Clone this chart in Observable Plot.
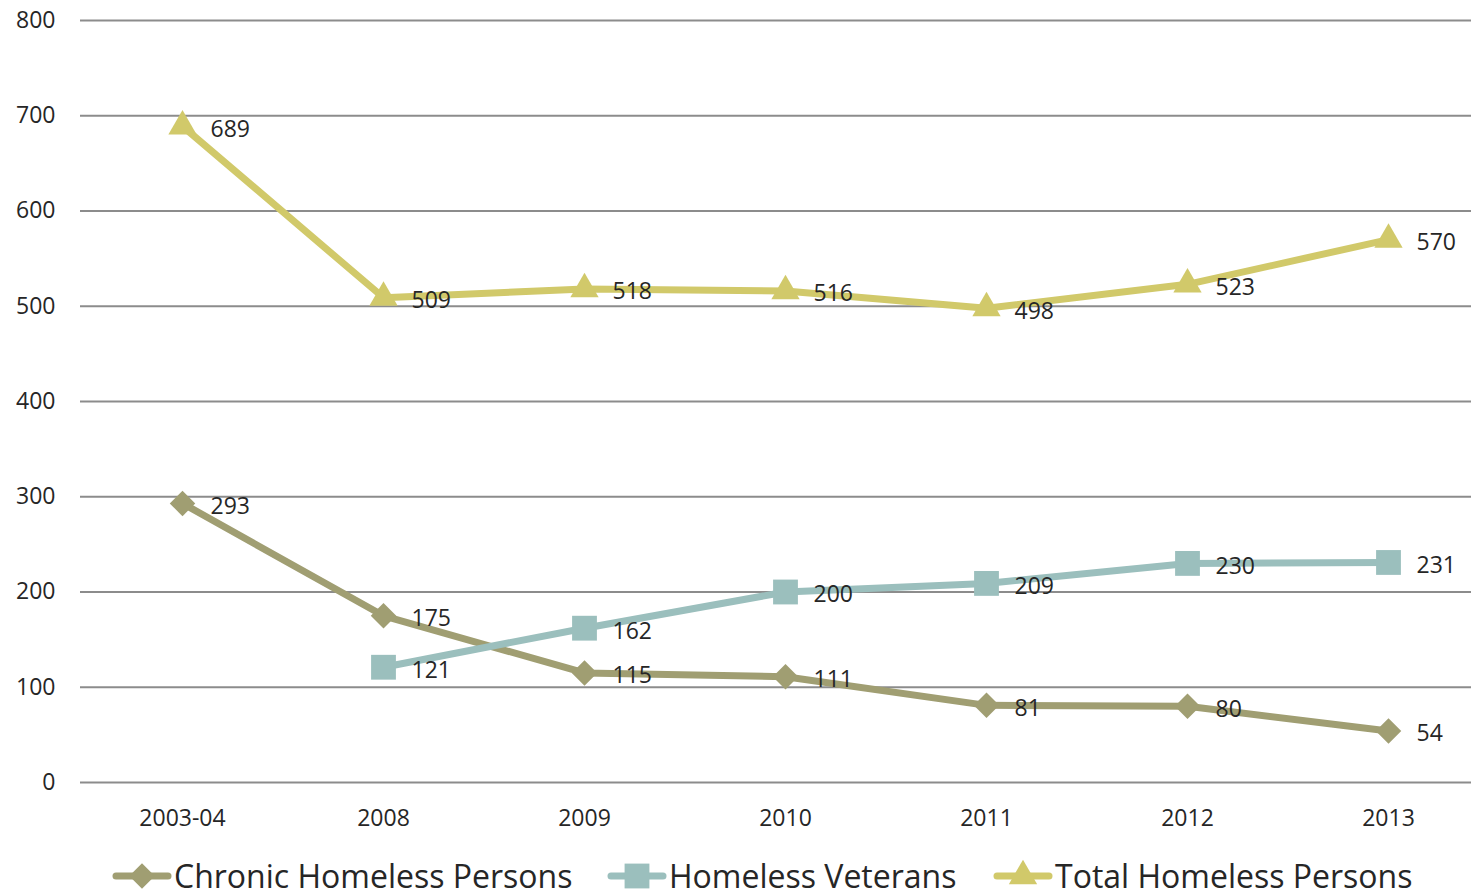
<!DOCTYPE html>
<html>
<head>
<meta charset="utf-8">
<script src="https://cdn.jsdelivr.net/npm/d3@7"></script>
<script src="https://cdn.jsdelivr.net/npm/@observablehq/plot@0.6"></script>
<style>
  html, body { margin: 0; padding: 0; background: #fff; overflow: hidden; }
  #chart svg { display: block; }
  #legend { position: relative; width: 1471px; height: 50px; font-family: "Open Sans", sans-serif; color: #262626; }
  .item { position: absolute; top: 11px; display: flex; align-items: center; font-size: 32px; line-height: 40px; white-space: nowrap; }
  .item svg { display: block; margin-right: 2px; }
</style>
</head>
<body>
<div id="chart"></div>
<div id="legend"></div>
<script>
const categories = ["2003-04", "2008", "2009", "2010", "2011", "2012", "2013"];
const chronic = [293, 175, 115, 111, 81, 80, 54];
const veterans = [null, 121, 162, 200, 209, 230, 231];
const total = [689, 509, 518, 516, 498, 523, 570];
const yTicks = [0, 100, 200, 300, 400, 500, 600, 700, 800];
const seriesNames = ["Chronic Homeless Persons", "Homeless Veterans", "Total Homeless Persons"];
const seriesColors = ["#a09e72", "#9bbfbd", "#d1c96a"];
const seriesSymbols = ["diamond2", "square", "triangle"];
const seriesR = [11.5, 14, 10.5];

const seriesValues = [chronic, veterans, total];
const rows = [];
seriesValues.forEach((vals, si) => {
  vals.forEach((v, i) => {
    if (v != null) rows.push({series: seriesNames[si], year: categories[i], value: v, si});
  });
});

const lineMarks = [];
const dotMarks = [];
seriesNames.forEach((name, si) => {
  const data = rows.filter(d => d.si === si);
  lineMarks.push(Plot.line(data, {x: "year", y: "value", stroke: seriesColors[si], strokeWidth: 7}));
  dotMarks.push(Plot.dot(data, {x: "year", y: "value", fill: seriesColors[si], stroke: "none", symbol: seriesSymbols[si], r: seriesR[si]}));
});

const chart = Plot.plot({
  width: 1471,
  height: 845,
  marginTop: 20,
  marginBottom: 63,
  marginLeft: 80,
  marginRight: 0,
  style: {fontFamily: "Open Sans", fontSize: "23px", color: "#262626", background: "#fff"},
  x: {type: "point", domain: categories, range: [181, 1388], padding: 0},
  y: {domain: [0, 800]},
  marks: [
    Plot.ruleY(yTicks, {stroke: "#8c8c8c", strokeWidth: 2}),
    Plot.axisY({ticks: yTicks, tickSize: 0, tickPadding: 25, label: null, fontSize: 23, fill: "#262626"}),
    Plot.axisX({tickSize: 0, tickPadding: 27, label: null, fontSize: 23, fill: "#262626"}),
    ...lineMarks,
    ...dotMarks,
    Plot.text(rows, {x: "year", y: "value", text: d => String(d.value), dx: 28, dy: 3, textAnchor: "start", fontSize: 23, fill: "#262626"})
  ]
});
document.getElementById("chart").appendChild(chart);

const legendLefts = [112, 607, 993];
const legend = document.getElementById("legend");
seriesNames.forEach((name, si) => {
  const item = document.createElement("div");
  item.className = "item";
  item.style.left = legendLefts[si] + "px";
  const sw = d3.create("svg").attr("width", 60).attr("height", 40);
  sw.append("line").attr("x1", 4).attr("x2", 56).attr("y1", 20).attr("y2", 20)
    .attr("stroke", seriesColors[si]).attr("stroke-width", 7).attr("stroke-linecap", "round");
  sw.append("path").attr("transform", "translate(30,20)")
    .attr("d", d3.symbol(si === 0 ? d3.symbolDiamond2 : si === 1 ? d3.symbolSquare : d3.symbolTriangle, Math.PI * seriesR[si] * seriesR[si])())
    .attr("fill", seriesColors[si]);
  item.appendChild(sw.node());
  const span = document.createElement("span");
  span.textContent = name;
  item.appendChild(span);
  legend.appendChild(item);
});
</script>
</body>
</html>
